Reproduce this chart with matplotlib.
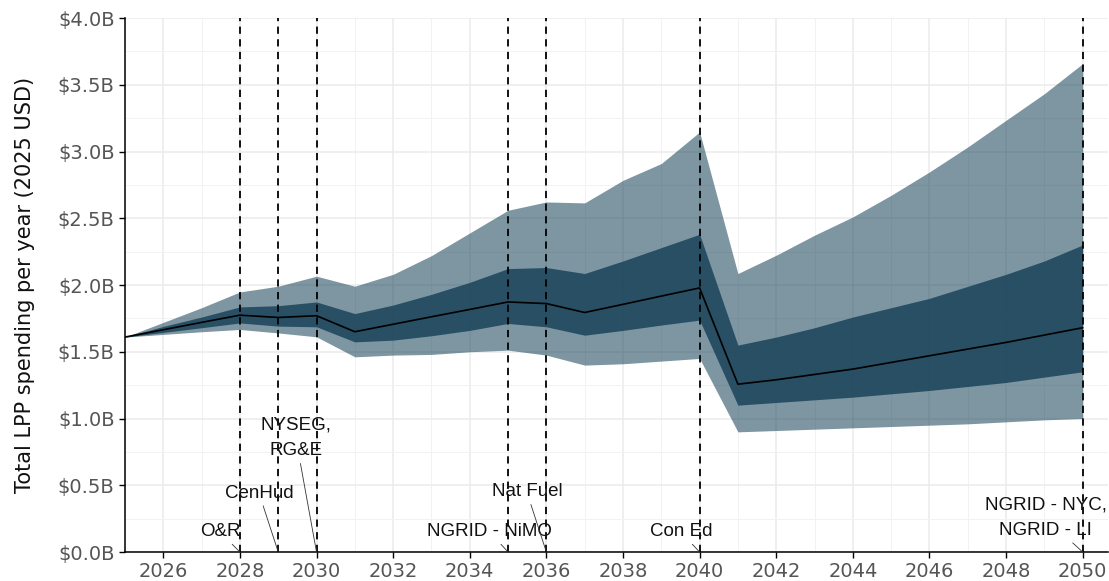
import matplotlib
matplotlib.use('Agg')
import matplotlib.pyplot as plt
from matplotlib.ticker import FuncFormatter, MultipleLocator

# yearly spending projections, billions of 2025 USD
years = list(range(2025, 2051))
median = [1.61, 1.665, 1.72, 1.774, 1.757, 1.77, 1.65, 1.706, 1.762, 1.817, 1.873,
          1.861, 1.794, 1.855, 1.917, 1.978, 1.257, 1.29, 1.33, 1.37, 1.42, 1.47,
          1.52, 1.57, 1.625, 1.68]
inner_hi = [1.61, 1.69, 1.76, 1.836, 1.845, 1.873, 1.786, 1.85, 1.93, 2.02, 2.123,
            2.131, 2.086, 2.18, 2.28, 2.38, 1.55, 1.61, 1.68, 1.76, 1.83, 1.90,
            1.99, 2.08, 2.18, 2.30]
inner_lo = [1.61, 1.645, 1.68, 1.716, 1.692, 1.687, 1.574, 1.587, 1.62, 1.66, 1.712,
            1.687, 1.624, 1.66, 1.70, 1.737, 1.10, 1.12, 1.14, 1.16, 1.185, 1.21,
            1.24, 1.27, 1.31, 1.35]
outer_hi = [1.61, 1.72, 1.83, 1.948, 1.991, 2.066, 1.991, 2.08, 2.22, 2.39, 2.56,
            2.622, 2.615, 2.784, 2.91, 3.146, 2.086, 2.223, 2.373, 2.51, 2.672, 2.847,
            3.034, 3.234, 3.433, 3.658]
outer_lo = [1.61, 1.63, 1.65, 1.667, 1.641, 1.612, 1.462, 1.475, 1.48, 1.50, 1.512,
            1.475, 1.40, 1.41, 1.43, 1.45, 0.90, 0.91, 0.92, 0.93, 0.94, 0.95,
            0.96, 0.975, 0.99, 1.00]

# utility transition years and their labels
event_years = [2028, 2029, 2030, 2035, 2036, 2040, 2050]
event_labels = ['O&R', 'CenHud', 'NYSEG,\nRG&E', 'NGRID - NiMO', 'Nat Fuel',
                'Con Ed', 'NGRID - NYC,\nNGRID - LI']
label_pos = [(2027.48, 0.15), (2028.50, 0.44), (2029.46, 0.853), (2034.52, 0.15),
             (2035.49, 0.45), (2039.51, 0.15), (2049.03, 0.255)]

fig = plt.figure(figsize=(11.09, 5.81), dpi=100)
ax = fig.add_axes([0.1127, 0.0499, 0.886, 0.9191])

ax.fill_between(years, outer_lo, outer_hi, color='#1f4a5f', alpha=0.58, lw=0, zorder=2)
ax.fill_between(years, inner_lo, inner_hi, color='#133e55', alpha=0.8, lw=0, zorder=3)
ax.plot(years, median, color='black', lw=1.2, zorder=4)

for yr in event_years:
    ax.axvline(yr, color='black', lw=1.3, ls=(0, (4, 3)), zorder=5)

for yr, lab, (tx, ty) in zip(event_years, event_labels, label_pos):
    ax.annotate(lab, xy=(yr, 0), xytext=(tx, ty), ha='center', va='center',
                fontsize=13.5, family='Liberation Sans', linespacing=1.65,
                color='#111111', zorder=6,
                arrowprops=dict(arrowstyle='-', color='#333333', lw=0.6,
                                shrinkA=1, shrinkB=0))

ax.set_xlim(2025, 2050.65)
ax.set_ylim(0, 4)
ax.xaxis.set_minor_locator(MultipleLocator(1))
ax.set_xticks(range(2026, 2051, 2))
ax.yaxis.set_major_locator(MultipleLocator(0.5))
ax.yaxis.set_minor_locator(MultipleLocator(0.25))
ax.yaxis.set_major_formatter(FuncFormatter(lambda v, p: '${:.1f}B'.format(v)))

ax.grid(which='major', color='#ebebeb', lw=1.1, zorder=0)
ax.grid(which='minor', color='#f2f2f2', lw=0.7, zorder=0)
ax.set_axisbelow(True)

for s in ['top', 'right']:
    ax.spines[s].set_visible(False)
for s in ['left', 'bottom']:
    ax.spines[s].set_color('black')
    ax.spines[s].set_linewidth(1.1)
ax.tick_params(which='major', length=4, width=1, color='black',
               labelsize=14, labelcolor='#555555')
ax.tick_params(which='minor', length=0)

ax.set_ylabel('Total LPP spending per year (2025 USD)', fontsize=15, color='#111111',
              labelpad=16)

fig.savefig('out.png', dpi=100)
